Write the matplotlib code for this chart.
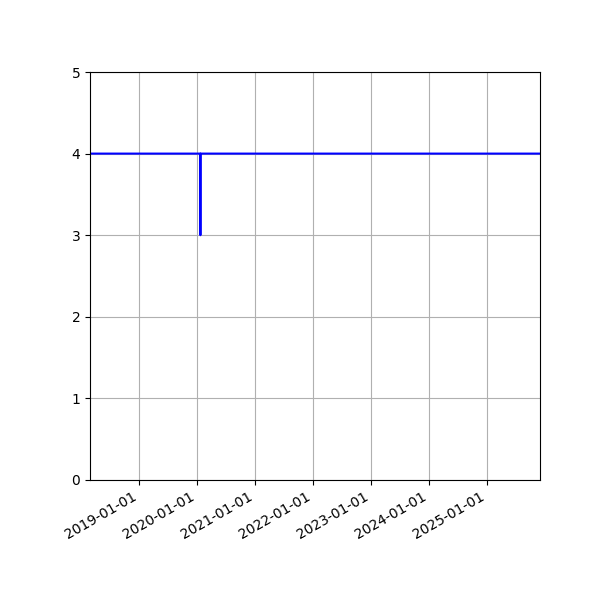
import numpy as np
import matplotlib
matplotlib.use("Agg")
import matplotlib.pyplot as plt
import matplotlib.dates as mdates

dates = np.array(['2018-02-27', '2020-01-22', '2020-01-23', '2020-01-24', '2025-11-30'],
                 dtype='datetime64[D]')
values = [4, 4, 3, 4, 4]

fig, ax = plt.subplots(figsize=(6, 6), dpi=100)
fig.subplots_adjust(left=0.15, right=0.9, top=0.88, bottom=0.2)
ax.plot(dates, values, color='blue', linewidth=1.5)
ax.set_xlim(dates[0], dates[-1])
ax.set_ylim(0, 5)
ax.xaxis.set_major_locator(mdates.YearLocator())
ax.xaxis.set_major_formatter(mdates.DateFormatter('%Y-%m-%d'))
ax.grid(True)
fig.autofmt_xdate()
fig.savefig("out.png")
